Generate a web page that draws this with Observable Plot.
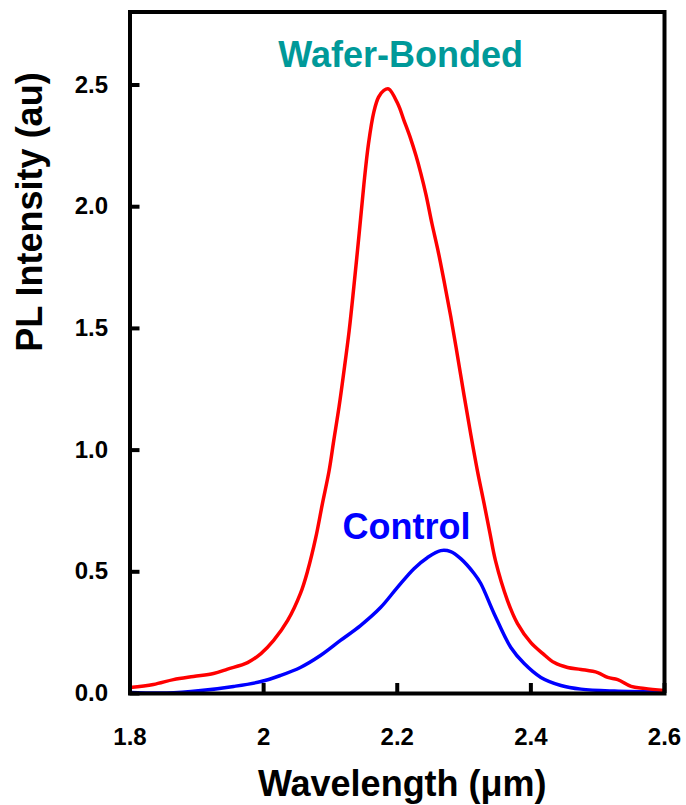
<!DOCTYPE html>
<html>
<head>
<meta charset="utf-8">
<script src="https://cdn.jsdelivr.net/npm/d3@7"></script>
<script src="https://cdn.jsdelivr.net/npm/@observablehq/plot@0.6"></script>
<style>
  html, body { margin: 0; padding: 0; background: #fff; }
  #chart svg { display: block; }
</style>
</head>
<body>
<div id="chart"></div>
<script>
// Wafer-Bonded (red)
const bondedWavelength = [1.800,1.835,1.865,1.895,1.925,1.946,1.976,1.996,2.015,2.036,2.055,2.066,2.078,2.088,2.098,2.105,2.113,2.120,2.128,2.135,2.143,2.150,2.157,2.165,2.172,2.180,2.187,2.201,2.210,2.220,2.228,2.235,2.243,2.252,2.261,2.270,2.280,2.290,2.300,2.310,2.320,2.330,2.339,2.347,2.365,2.380,2.400,2.418,2.435,2.455,2.475,2.500,2.515,2.530,2.550,2.570,2.600];
const bondedIntensity  = [0.025,0.037,0.057,0.070,0.082,0.100,0.127,0.164,0.218,0.300,0.410,0.505,0.640,0.780,0.915,1.040,1.180,1.320,1.490,1.670,1.890,2.090,2.260,2.390,2.450,2.478,2.484,2.422,2.355,2.280,2.210,2.140,2.050,1.930,1.820,1.695,1.550,1.390,1.225,1.065,0.915,0.780,0.655,0.546,0.382,0.287,0.209,0.164,0.127,0.107,0.099,0.086,0.066,0.057,0.029,0.021,0.012];

// Control (blue)
const controlWavelength = [1.800,1.855,1.906,1.955,1.996,2.025,2.055,2.085,2.115,2.145,2.175,2.200,2.225,2.245,2.265,2.280,2.295,2.315,2.325,2.345,2.370,2.390,2.415,2.445,2.475,2.525,2.600];
const controlIntensity  = [0.004,0.002,0.012,0.029,0.049,0.074,0.107,0.156,0.218,0.279,0.353,0.435,0.513,0.558,0.587,0.583,0.554,0.493,0.452,0.328,0.189,0.123,0.066,0.033,0.018,0.010,0.006];

const xTicks = [1.8, 2.0, 2.2, 2.4, 2.6];
const xTickLabels = ["1.8", "2", "2.2", "2.4", "2.6"];
const yTicks = [0, 0.5, 1.0, 1.5, 2.0, 2.5];
const yTickLabels = ["0.0", "0.5", "1.0", "1.5", "2.0", "2.5"];

const seriesNames = ["Wafer-Bonded", "Control"];
const xTitle = "Wavelength (μm)";
const yTitle = "PL Intensity (au)";

const bonded = bondedWavelength.map((w, i) => ({w, v: bondedIntensity[i]}));
const control = controlWavelength.map((w, i) => ({w, v: controlIntensity[i]}));

const FONT = "'Liberation Sans', Arial, Helvetica, sans-serif";

// layout
const W = 686, H = 805;
const mL = 129.5, mR = 22, mT = 11.5, mB = 112;
const xDomain = [1.8, 2.6], yDomain = [0, 2.8];
// inward tick lengths (px) converted to data units
const xTickLen = 10 * (yDomain[1] - yDomain[0]) / (H - mT - mB);
const yTickLen = 10 * (xDomain[1] - xDomain[0]) / (W - mL - mR);

const chart = Plot.plot({
  width: W,
  height: H,
  marginLeft: mL,
  marginRight: mR,
  marginTop: mT,
  marginBottom: mB,
  style: {fontFamily: FONT, background: "#fff", color: "#000"},
  x: {domain: xDomain},
  y: {domain: yDomain},
  marks: [
    Plot.axisX({ticks: xTicks, tickSize: 0, tickPadding: 34, tickFormat: (d) => xTickLabels[xTicks.indexOf(d)] ?? d,
      fontSize: 24, fontWeight: "bold", fill: "#000", label: null}),
    Plot.axisY({ticks: yTicks, tickSize: 0, tickPadding: 22, tickFormat: (d) => yTickLabels[yTicks.indexOf(d)] ?? d,
      fontSize: 24, fontWeight: "bold", fill: "#000", label: null}),
    Plot.line(control, {x: "w", y: "v", stroke: "#0000ff", strokeWidth: 3.5, curve: "catmull-rom"}),
    Plot.line(bonded, {x: "w", y: "v", stroke: "#ff0000", strokeWidth: 3.5, curve: "catmull-rom"}),
    Plot.frame({stroke: "#000", strokeWidth: 4}),
    Plot.ruleX(xTicks, {x: (d) => d, y1: yDomain[0], y2: yDomain[0] + xTickLen, stroke: "#000", strokeWidth: 4}),
    Plot.ruleY(yTicks, {y: (d) => d, x1: xDomain[0], x2: xDomain[0] + yTickLen, stroke: "#000", strokeWidth: 4}),
    Plot.text([seriesNames[0]], {x: 2.205, y: 2.623, text: (d) => d, fill: "#009999", fontSize: 36, fontWeight: "bold", lineAnchor: "middle", textAnchor: "middle"}),
    Plot.text([seriesNames[1]], {x: 2.214, y: 0.683, text: (d) => d, fill: "#0000ff", fontSize: 36, fontWeight: "bold", lineAnchor: "middle", textAnchor: "middle"}),
    Plot.text([xTitle], {frameAnchor: "bottom", text: (d) => d, dx: 5, dy: 90.5, fontSize: 36, fontWeight: "bold", fill: "#000", lineAnchor: "middle"}),
    Plot.text([yTitle], {frameAnchor: "left", text: (d) => d, dx: -100, dy: -1, rotate: -90, fontSize: 36, fontWeight: "bold", fill: "#000", lineAnchor: "middle"})
  ]
});
document.getElementById("chart").appendChild(chart);
</script>
</body>
</html>
